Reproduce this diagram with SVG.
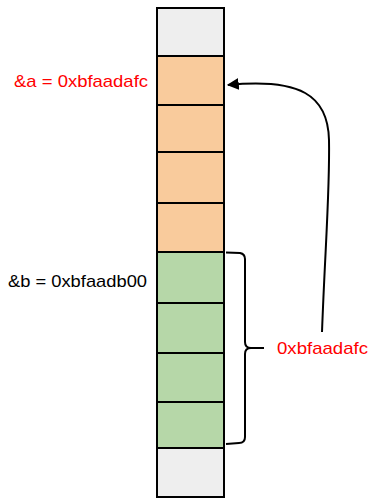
<svg xmlns="http://www.w3.org/2000/svg" width="370" height="500" viewBox="0 0 370 500">
  <style>
    .cell { stroke: #000; stroke-width: 2; }
    .empty { fill: #eeeeee; }
    .a { fill: #f9cb9c; }
    .b { fill: #b6d7a8; }
    .lbl { font-family: "Liberation Sans", Arial, sans-serif; font-size: 17px; }
    .red { fill: #ff0000; }
    .blk { fill: #000; }
    .wire { fill: none; stroke: #000; stroke-width: 2; }
  </style>
  <defs>
    <marker id="head" viewBox="0 0 10 10" refX="9" refY="5" markerWidth="6" markerHeight="6" orient="auto" markerUnits="strokeWidth">
      <path d="M0,0 L10,5 L0,10 z" fill="#000"/>
    </marker>
  </defs>

  <!-- memory column -->
  <g id="cell-top"><rect class="cell empty" x="157" y="8" width="67" height="48"/></g>
  <g id="a0"><rect class="cell a" x="157" y="56" width="67" height="49"/></g>
  <g id="a1"><rect class="cell a" x="157" y="105" width="67" height="47"/></g>
  <g id="a2"><rect class="cell a" x="157" y="152" width="67" height="51"/></g>
  <g id="a3"><rect class="cell a" x="157" y="203" width="67" height="49"/></g>
  <g id="b0"><rect class="cell b" x="157" y="252" width="67" height="51"/></g>
  <g id="b1"><rect class="cell b" x="157" y="303" width="67" height="50"/></g>
  <g id="b2"><rect class="cell b" x="157" y="353" width="67" height="49"/></g>
  <g id="b3"><rect class="cell b" x="157" y="402" width="67" height="46"/></g>
  <g id="cell-bottom"><rect class="cell empty" x="157" y="448" width="67" height="49"/></g>

  <!-- address labels -->
  <g id="label-a"><text class="lbl red" x="14" y="87" textLength="134" lengthAdjust="spacingAndGlyphs">&amp;a = 0xbfaadafc</text></g>
  <g id="label-b"><text class="lbl blk" x="8" y="287" textLength="139" lengthAdjust="spacingAndGlyphs">&amp;b = 0xbfaadb00</text></g>
  <g id="label-value"><text class="lbl red" x="277" y="354" textLength="91" lengthAdjust="spacingAndGlyphs">0xbfaadafc</text></g>

  <!-- connectors -->
  <g id="connectors">
    <path class="wire" d="M226,252.5 L240,253 Q245,254 245,259 L245,342 Q245,348 251,348 L264,348 M251,348 Q245,348 245,354 L245,437 Q245,443 239,443 L226,444"/>
    <path class="wire" marker-end="url(#head)" d="M322,332 C325,250 330,190 329,140 C328,95 300,78 228,85"/>
  </g>
</svg>
